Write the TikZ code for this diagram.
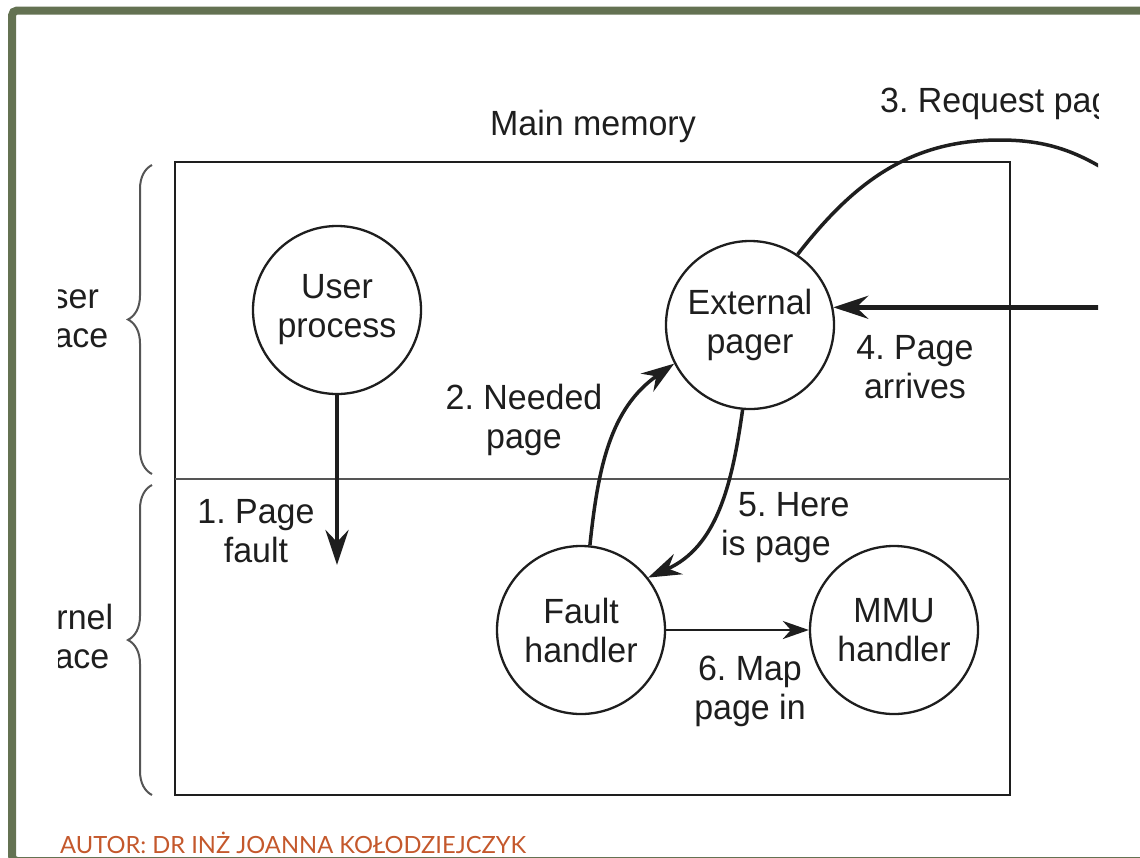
\documentclass[tikz,border=0pt]{standalone}
\usepackage{xcolor}
\usepackage{fontspec}
\setmainfont{Liberation Sans}[FakeStretch=0.97]
\newfontfamily\footerfont{Lato}
\usetikzlibrary{positioning,arrows.meta,decorations.pathreplacing}
\frenchspacing

\definecolor{slidegreen}{RGB}{100,114,82}
\definecolor{authorred}{RGB}{196,88,44}
\definecolor{inkgray}{RGB}{30,30,30}
\definecolor{linegray}{RGB}{85,85,85}

\begin{document}
\begin{tikzpicture}[x=1pt, y=1pt, font=\fontsize{35}{39}\selectfont, text=inkgray,
    proc/.style={draw=inkgray, circle, line width=2.3pt, minimum size=168pt, inner sep=0pt, align=center},
    lbl/.style={align=center, inner sep=0pt},
    heavyarrow/.style={draw=inkgray, line width=4.5pt, -{Stealth[length=35pt, width=23pt, inset=12pt]}},
    curvearrow/.style={draw=inkgray, line width=3.5pt, -{Stealth[length=33pt, width=22pt, inset=11pt]}},
    thinarrow/.style={draw=inkgray, line width=2.8pt, -{Stealth[length=26pt, width=18pt, inset=8pt]}},
    spacebrace/.style={draw=linegray, line width=2pt, decorate, decoration={brace, amplitude=24pt}}]
    \useasboundingbox (0,0) rectangle (1140,-857);
    \clip (0,0) rectangle (1140,-857);

    % slide frame and footer
    \draw[slidegreen, line width=8pt, rounded corners=5pt] (12,-10.5) rectangle (1170,-861);
    \node[anchor=west, font=\footerfont\fontsize{23.7}{26}\selectfont, text=authorred, inner sep=0pt] (author) at (60,-843) {AUTOR: DR INŻ JOANNA KOŁODZIEJCZYK};

    \begin{scope}
    \clip (58,0) rectangle (1098,-857);
    \node[lbl] (memlabel) at (593,-126) {Main memory};
    \draw[line width=2.8pt, draw=inkgray] (175,-162) rectangle (1010,-795);
    \draw[line width=2.6pt, draw=linegray] (175,-479) -- (1010,-479);
    \draw[spacebrace] (152,-474) -- (152,-165);
    \draw[spacebrace] (152,-795) -- (152,-485);
    \node[lbl] (userspace) at (63,-320) {User\\space};
    \node[lbl] (kernelspace) at (64,-640) {Kernel\\space};

    \node[proc] (user) at (337,-310) {User\\process};
    \node[proc] (pager) at (750,-325) {External\\pager};
    \node[proc] (fault) at (581,-630) {Fault\\handler};
    \node[proc] (mmu) at (894,-630) {MMU\\handler};

    \coordinate (faultend) at (337,-565);
    \coordinate (reqtop) at (1000,-140);
    \coordinate (reqend) at (1130,-186);
    \coordinate (diskside) at (1130,0);

    % numbered steps
    \draw[heavyarrow] (user.south) -- (faultend);
    \draw[curvearrow] (fault.84) to[out=84, in=215] (pager.207);
    \draw[draw=inkgray, line width=3.5pt] (pager.56) to[out=52, in=180] (reqtop) to[out=0, in=145] (reqend);
    \draw[heavyarrow] (pager.12 -| diskside) -- (pager.12);
    \draw[curvearrow] (pager.265) to[out=262, in=24] (fault.38);
    \draw[thinarrow] (fault.east) -- (mmu.west);

    \node[lbl] (step1) at (256,-531) {1. Page\\fault};
    \node[lbl] (step2) at (524,-420) {2. Needed\\page};
    \node[anchor=base west, inner sep=0pt] (step3) at (880,-112) {3. Request page};
    \node[lbl] (step4) at (915,-367) {4. Page\\arrives};
    \node[align=left, inner sep=0pt, anchor=west] (step5) at (721,-528) {\hspace*{17pt}5. Here\\is page};
    \node[lbl] (step6) at (750,-691) {6. Map\\page in};
    \end{scope}
\end{tikzpicture}
\end{document}
